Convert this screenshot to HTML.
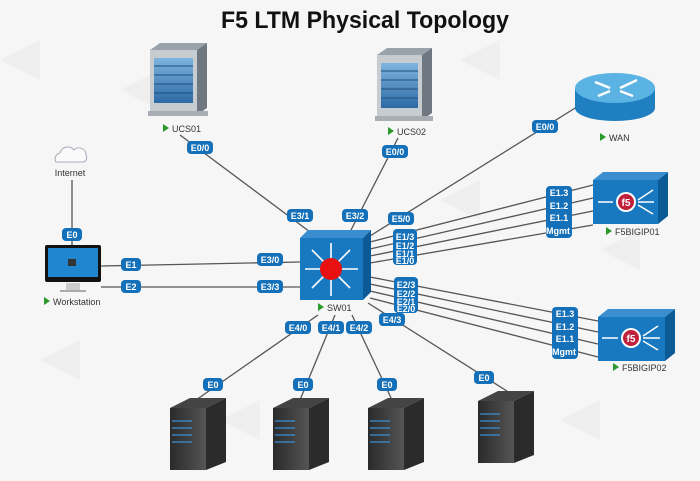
<!DOCTYPE html>
<html><head><meta charset="utf-8"><style>
html,body{margin:0;padding:0;background:#f6f6f6;}
svg{display:block;font-family:"Liberation Sans",sans-serif;}
.b rect{fill:#1470b8;}
.b text{fill:#fff;font-size:9px;font-weight:bold;text-anchor:middle;}
.lbl{font-size:9px;fill:#333;}
.ln{stroke:#555;stroke-width:1.3;fill:none;}
</style></head><body>
<svg width="700" height="481" viewBox="0 0 700 481">
<defs>
<linearGradient id="ucs" x1="0" x2="0" y1="0" y2="1"><stop offset="0" stop-color="#7fb4de"/><stop offset="1" stop-color="#2c6aa6"/></linearGradient>
<linearGradient id="tower" x1="0" x2="1"><stop offset="0" stop-color="#2a2a2a"/><stop offset="1" stop-color="#555"/></linearGradient>
</defs>
<rect width="700" height="481" fill="#f6f6f6"/>
<g fill="#efefef">
<polygon points="0,60 40,40 40,80"/><polygon points="120,90 160,70 160,110"/><polygon points="460,60 500,40 500,80"/><polygon points="600,250 640,230 640,270"/><polygon points="40,360 80,340 80,380"/><polygon points="440,200 480,180 480,220"/><polygon points="220,420 260,400 260,440"/><polygon points="560,420 600,400 600,440"/>
</g>
<text x="365" y="28" text-anchor="middle" font-size="24" font-weight="bold" fill="#111" textLength="288" lengthAdjust="spacingAndGlyphs">F5 LTM Physical Topology</text>

<g class="ln">
<line x1="72" y1="180" x2="72" y2="245"/>
<line x1="180" y1="135" x2="310" y2="232"/>
<line x1="398" y1="138" x2="350" y2="232"/>
<line x1="101" y1="266" x2="300" y2="262"/>
<line x1="101" y1="287" x2="300" y2="287"/>
<line x1="370" y1="236" x2="580" y2="105"/>
<line x1="370" y1="242" x2="593" y2="185"/>
<line x1="370" y1="249" x2="593" y2="198"/>
<line x1="370" y1="256" x2="593" y2="211"/>
<line x1="370" y1="263" x2="593" y2="225"/>
<line x1="370" y1="277" x2="598" y2="321"/>
<line x1="370" y1="284" x2="598" y2="332"/>
<line x1="370" y1="291" x2="598" y2="344"/>
<line x1="370" y1="298" x2="598" y2="357"/>
<line x1="368" y1="303" x2="510" y2="393"/>
<line x1="318" y1="315" x2="196" y2="400"/>
<line x1="335" y1="315" x2="300" y2="400"/>
<line x1="352" y1="315" x2="392" y2="400"/>
</g>

<g>
<polygon points="150,50 160,43 207,43 197,50" fill="#9aa3ab"/>
<polygon points="197,50 207,43 207,108 197,115" fill="#6f7880"/>
<rect x="150" y="50" width="47" height="62" fill="#c7ccd1"/>
<rect x="154" y="58" width="39" height="45" fill="url(#ucs)"/>
<g stroke="#1d4f80" stroke-width="1"><line x1="154" y1="66" x2="193" y2="66"/><line x1="154" y1="75" x2="193" y2="75"/><line x1="154" y1="84" x2="193" y2="84"/><line x1="154" y1="93" x2="193" y2="93"/></g>
<rect x="148" y="111" width="60" height="5" fill="#a8aeb4"/>
</g>
<polygon points="163,124 163,132 169,128" fill="#2a9a2a"/><text x="172" y="132" class="lbl">UCS01</text>
<g>
<polygon points="377,55 387,48 432,48 422,55" fill="#9aa3ab"/>
<polygon points="422,55 432,48 432,113 422,120" fill="#6f7880"/>
<rect x="377" y="55" width="45" height="62" fill="#c7ccd1"/>
<rect x="381" y="63" width="37" height="45" fill="url(#ucs)"/>
<g stroke="#1d4f80" stroke-width="1"><line x1="381" y1="71" x2="418" y2="71"/><line x1="381" y1="80" x2="418" y2="80"/><line x1="381" y1="89" x2="418" y2="89"/><line x1="381" y1="98" x2="418" y2="98"/></g>
<rect x="375" y="116" width="58" height="5" fill="#a8aeb4"/>
</g>
<polygon points="388,127 388,135 394,131" fill="#2a9a2a"/><text x="397" y="135" class="lbl">UCS02</text>

<g>
<path d="M575,88 L575,108 A40,13 0 0 0 655,108 L655,88 Z" fill="#1f7fc0"/>
<ellipse cx="615" cy="88" rx="40" ry="15" fill="#5bb3e3"/>
<g stroke="#fff" stroke-width="2.5" fill="#fff">
<line x1="595" y1="82" x2="610" y2="88"/><line x1="620" y1="88" x2="637" y2="80"/>
<line x1="598" y1="96" x2="610" y2="91"/><line x1="620" y1="91" x2="633" y2="96"/>
</g>
</g>
<polygon points="600,133 600,141 606,137" fill="#2a9a2a"/><text x="609" y="141" class="lbl">WAN</text>

<path d="M56,162 a6,6 0 0 1 4,-9 a8,8 0 0 1 14,-3 a7,7 0 0 1 12,5 a5,5 0 0 1 -2,7 Z" fill="#fafafa" stroke="#aab" stroke-width="1"/>
<text x="70" y="176" class="lbl" text-anchor="middle">Internet</text>

<rect x="45" y="245" width="56" height="37" rx="2" fill="#111"/>
<rect x="48" y="248" width="50" height="29" fill="#1f86cf"/>
<rect x="68" y="259" width="8" height="7" fill="#333"/>
<rect x="66" y="283" width="14" height="8" fill="#ccc"/>
<rect x="60" y="290" width="26" height="2" fill="#aaa"/>
<polygon points="44,297 44,305 50,301" fill="#2a9a2a"/><text x="53" y="305" class="lbl">Workstation</text>

<polygon points="300,238 308,230 371,230 363,238" fill="#3a8ed0"/>
<polygon points="363,238 371,230 371,292 363,300" fill="#0b5a96"/>
<rect x="300" y="238" width="63" height="62" fill="#1979c0"/>
<g stroke="#fff" stroke-width="1.6">
<line x1="331" y1="269" x2="331" y2="243"/><line x1="331" y1="269" x2="331" y2="296"/>
<line x1="331" y1="269" x2="305" y2="269"/><line x1="331" y1="269" x2="358" y2="269"/>
<line x1="331" y1="269" x2="312" y2="250"/><line x1="331" y1="269" x2="350" y2="250"/>
<line x1="331" y1="269" x2="312" y2="288"/><line x1="331" y1="269" x2="350" y2="288"/>
</g>
<circle cx="331" cy="269" r="11" fill="#e81010"/>
<polygon points="318,303 318,311 324,307" fill="#2a9a2a"/><text x="327" y="311" class="lbl">SW01</text>

<g>
<polygon points="593,180 603,172 668,172 658,180" fill="#3b8fd1"/>
<polygon points="658,180 668,172 668,216 658,224" fill="#0b5a96"/>
<rect x="593" y="180" width="65" height="44" fill="#1979c0"/>
<circle cx="626" cy="202" r="10" fill="#fff"/><circle cx="626" cy="202" r="8" fill="#c0203a"/>
<text x="626" y="206" font-size="10" font-weight="bold" fill="#fff" text-anchor="middle">f5</text>
<g stroke="#fff" stroke-width="1.5"><line x1="598" y1="202" x2="613" y2="202"/><line x1="638" y1="200" x2="653" y2="190"/><line x1="638" y1="202" x2="654" y2="202"/><line x1="638" y1="205" x2="653" y2="214"/></g>
</g>
<polygon points="606,227 606,235 612,231" fill="#2a9a2a"/><text x="615" y="235" class="lbl">F5BIGIP01</text>
<g>
<polygon points="598,317 608,309 675,309 665,317" fill="#3b8fd1"/>
<polygon points="665,317 675,309 675,353 665,361" fill="#0b5a96"/>
<rect x="598" y="317" width="67" height="44" fill="#1979c0"/>
<circle cx="631" cy="338" r="10" fill="#fff"/><circle cx="631" cy="338" r="8" fill="#c0203a"/>
<text x="631" y="342" font-size="10" font-weight="bold" fill="#fff" text-anchor="middle">f5</text>
<g stroke="#fff" stroke-width="1.5"><line x1="602" y1="338" x2="618" y2="338"/><line x1="643" y1="336" x2="658" y2="326"/><line x1="643" y1="338" x2="660" y2="338"/><line x1="643" y1="341" x2="658" y2="350"/></g>
</g>
<polygon points="613,363 613,371 619,367" fill="#2a9a2a"/><text x="622" y="371" class="lbl">F5BIGIP02</text>

<g id="t1">
<polygon points="170,408 190,398 226,398 206,408" fill="#444"/>
<polygon points="206,408 226,398 226,462 206,470" fill="#2b2b2b"/>
<rect x="170" y="408" width="36" height="62" fill="url(#tower)"/>
<g stroke="#3a8fd8" stroke-width="1.2"><line x1="172" y1="421" x2="192" y2="421"/><line x1="172" y1="428" x2="192" y2="428"/><line x1="172" y1="435" x2="192" y2="435"/><line x1="172" y1="442" x2="192" y2="442"/></g>
</g>
<use href="#t1" x="103"/>
<use href="#t1" x="198"/>
<use href="#t1" x="308" y="-7"/>

<g class="b">
<rect x="62" y="228" width="20" height="13" rx="4"/><text x="72" y="238">E0</text>
<rect x="187" y="141" width="26" height="13" rx="4"/><text x="200" y="151">E0/0</text>
<rect x="382" y="145" width="26" height="13" rx="4"/><text x="395" y="155">E0/0</text>
<rect x="532" y="120" width="26" height="13" rx="4"/><text x="545" y="130">E0/0</text>
<rect x="121" y="258" width="20" height="13" rx="4"/><text x="131" y="268">E1</text>
<rect x="121" y="280" width="20" height="13" rx="4"/><text x="131" y="290">E2</text>
<rect x="257" y="253" width="26" height="13" rx="4"/><text x="270" y="263">E3/0</text>
<rect x="257" y="280" width="26" height="13" rx="4"/><text x="270" y="290">E3/3</text>
<rect x="287" y="209" width="26" height="13" rx="4"/><text x="300" y="219">E3/1</text>
<rect x="342" y="209" width="26" height="13" rx="4"/><text x="355" y="219">E3/2</text>
<rect x="388" y="212" width="26" height="13" rx="4"/><text x="401" y="222">E5/0</text>
<rect x="393" y="229" width="24" height="36" rx="4"/><text x="405" y="240">E1/3</text><text x="405" y="249">E1/2</text><text x="405" y="257">E1/1</text><text x="405" y="264">E1/0</text>
<rect x="394" y="277" width="24" height="36" rx="4"/><text x="406" y="288">E2/3</text><text x="406" y="297">E2/2</text><text x="406" y="305">E2/1</text><text x="406" y="312">E2/0</text>
<rect x="379" y="313" width="26" height="13" rx="4"/><text x="392" y="323">E4/3</text>
<rect x="285" y="321" width="26" height="13" rx="4"/><text x="298" y="331">E4/0</text>
<rect x="318" y="321" width="26" height="13" rx="4"/><text x="331" y="331">E4/1</text>
<rect x="346" y="321" width="26" height="13" rx="4"/><text x="359" y="331">E4/2</text>
<rect x="546" y="186" width="26" height="52" rx="4"/><text x="559" y="196">E1.3</text><text x="559" y="209">E1.2</text><text x="559" y="221">E1.1</text><text x="558" y="234">Mgmt</text>
<rect x="552" y="307" width="26" height="52" rx="4"/><text x="565" y="317">E1.3</text><text x="565" y="330">E1.2</text><text x="565" y="342">E1.1</text><text x="564" y="355">Mgmt</text>
<rect x="203" y="378" width="20" height="13" rx="4"/><text x="213" y="388">E0</text>
<rect x="293" y="378" width="20" height="13" rx="4"/><text x="303" y="388">E0</text>
<rect x="377" y="378" width="20" height="13" rx="4"/><text x="387" y="388">E0</text>
<rect x="474" y="371" width="20" height="13" rx="4"/><text x="484" y="381">E0</text>
</g>
</svg>
</body></html>
